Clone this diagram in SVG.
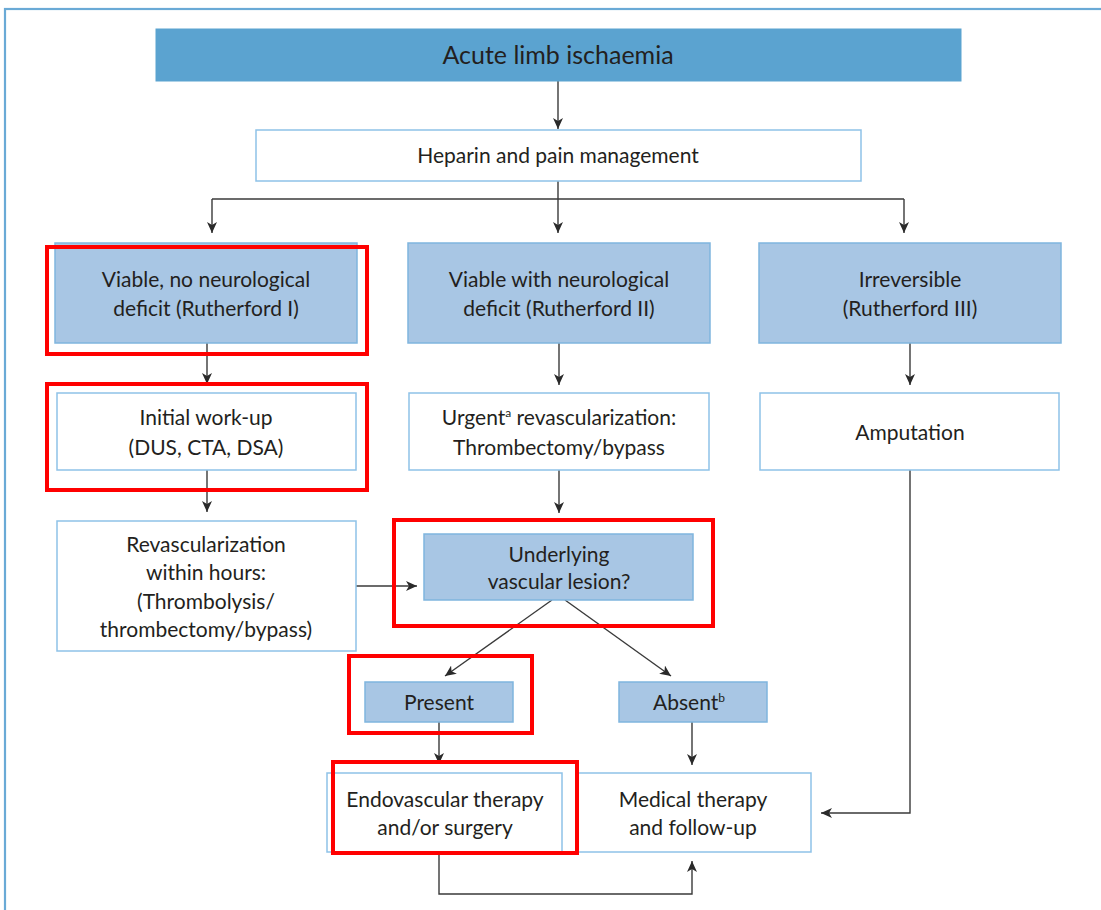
<svg xmlns="http://www.w3.org/2000/svg" width="1101" height="910" viewBox="0 0 1101 910">
<style>
text{font-family:Lato,"Open Sans","Liberation Sans",sans-serif;fill:#231f20;text-anchor:middle;font-size:21px}
.blue{fill:#a8c6e4;stroke:#7fb5de;stroke-width:1.5}
.white{fill:#fff;stroke:#8ec2e8;stroke-width:1.5}
.red{fill:none;stroke:#ff0000;stroke-width:4}
.c{fill:none;stroke:#3a3a3a;stroke-width:1.4}
.sup{font-size:12px}
</style>
<defs>
<marker id="ah" markerUnits="userSpaceOnUse" markerWidth="11" markerHeight="10" refX="11" refY="5" orient="auto">
<path d="M0,0 L11,5 L0,10 L3,5 z" fill="#2a2a2a"/>
</marker>
</defs>
<rect x="0" y="0" width="1101" height="910" fill="#fff"/>
<rect x="5" y="9" width="1120" height="930" fill="none" stroke="#6aaad6" stroke-width="2.2"/>

<g id="connectors">
<line class="c" x1="558" y1="81" x2="558" y2="129" marker-end="url(#ah)"/>
<line class="c" x1="558" y1="181" x2="558" y2="199"/>
<line class="c" x1="212" y1="199" x2="904" y2="199"/>
<line class="c" x1="212" y1="199" x2="212" y2="233" marker-end="url(#ah)"/>
<line class="c" x1="558" y1="199" x2="558" y2="233" marker-end="url(#ah)"/>
<line class="c" x1="904" y1="199" x2="904" y2="233" marker-end="url(#ah)"/>
<line class="c" x1="207" y1="343" x2="207" y2="384" marker-end="url(#ah)"/>
<line class="c" x1="559" y1="343" x2="559" y2="385" marker-end="url(#ah)"/>
<line class="c" x1="910" y1="343" x2="910" y2="385" marker-end="url(#ah)"/>
<line class="c" x1="207" y1="470" x2="207" y2="512" marker-end="url(#ah)"/>
<line class="c" x1="559" y1="470" x2="559" y2="513" marker-end="url(#ah)"/>
<line class="c" x1="356" y1="586" x2="417" y2="586" marker-end="url(#ah)"/>
<line class="c" x1="552" y1="600" x2="445" y2="676" marker-end="url(#ah)"/>
<line class="c" x1="565" y1="600" x2="671" y2="676" marker-end="url(#ah)"/>
<line class="c" x1="439" y1="722" x2="439" y2="764" marker-end="url(#ah)"/>
<line class="c" x1="692" y1="722" x2="692" y2="765" marker-end="url(#ah)"/>
<polyline class="c" points="910,470 910,813 821,813" marker-end="url(#ah)"/>
<polyline class="c" points="439,852 439,894 692,894 692,861" marker-end="url(#ah)"/>
</g>

<g id="n-title">
<rect x="156" y="29" width="805" height="52" fill="#5ba3d0" stroke="#5ba3d0"/>
<text x="558" y="64" style="font-size:25px">Acute limb ischaemia</text>
</g>
<g id="n-heparin">
<rect class="white" x="256" y="130" width="605" height="51"/>
<text x="558" y="163">Heparin and pain management</text>
</g>
<g id="n-viable1">
<rect class="blue" x="55" y="243" width="302" height="100"/>
<text x="206" y="287">Viable, no neurological</text>
<text x="206" y="316">deficit (Rutherford I)</text>
</g>
<g id="n-viable2">
<rect class="blue" x="408" y="243" width="302" height="100"/>
<text x="559" y="287">Viable with neurological</text>
<text x="559" y="316">deficit (Rutherford II)</text>
</g>
<g id="n-irrev">
<rect class="blue" x="759" y="243" width="302" height="100"/>
<text x="910" y="287">Irreversible</text>
<text x="910" y="316">(Rutherford III)</text>
</g>
<g id="n-workup">
<rect class="white" x="57" y="393" width="299" height="77"/>
<text x="206" y="425">Initial work-up</text>
<text x="206" y="455">(DUS, CTA, DSA)</text>
</g>
<g id="n-urgent">
<rect class="white" x="409" y="393" width="300" height="77"/>
<text x="559" y="425">Urgent<tspan class="sup" dy="-8">a</tspan><tspan dy="8"> revascularization:</tspan></text>
<text x="559" y="455">Thrombectomy/bypass</text>
</g>
<g id="n-amput">
<rect class="white" x="760" y="393" width="299" height="77"/>
<text x="910" y="440">Amputation</text>
</g>
<g id="n-revasc">
<rect class="white" x="57" y="521" width="299" height="130"/>
<text x="206" y="552">Revascularization</text>
<text x="206" y="580">within hours:</text>
<text x="206" y="609">(Thrombolysis/</text>
<text x="206" y="637">thrombectomy/bypass)</text>
</g>
<g id="n-lesion">
<rect class="blue" x="424" y="534" width="269" height="66"/>
<text x="559" y="562">Underlying</text>
<text x="559" y="589">vascular lesion?</text>
</g>
<g id="n-present">
<rect class="blue" x="365" y="682" width="148" height="40"/>
<text x="439" y="710">Present</text>
</g>
<g id="n-absent">
<rect class="blue" x="619" y="682" width="148" height="40"/>
<text x="689" y="710">Absent<tspan class="sup" dy="-8">b</tspan></text>
</g>
<g id="n-endo">
<rect class="white" x="327" y="773" width="235" height="79"/>
<text x="445" y="807">Endovascular therapy</text>
<text x="445" y="835">and/or surgery</text>
</g>
<g id="n-medical">
<rect class="white" x="576" y="773" width="235" height="79"/>
<text x="693" y="807">Medical therapy</text>
<text x="693" y="835">and follow-up</text>
</g>

<g id="highlights">
<rect class="red" x="47" y="247" width="320" height="107"/>
<rect class="red" x="47" y="384" width="320" height="106"/>
<rect class="red" x="394" y="520" width="319" height="106"/>
<rect class="red" x="349" y="656" width="183" height="77"/>
<rect class="red" x="333" y="762" width="244" height="91"/>
</g>
</svg>
